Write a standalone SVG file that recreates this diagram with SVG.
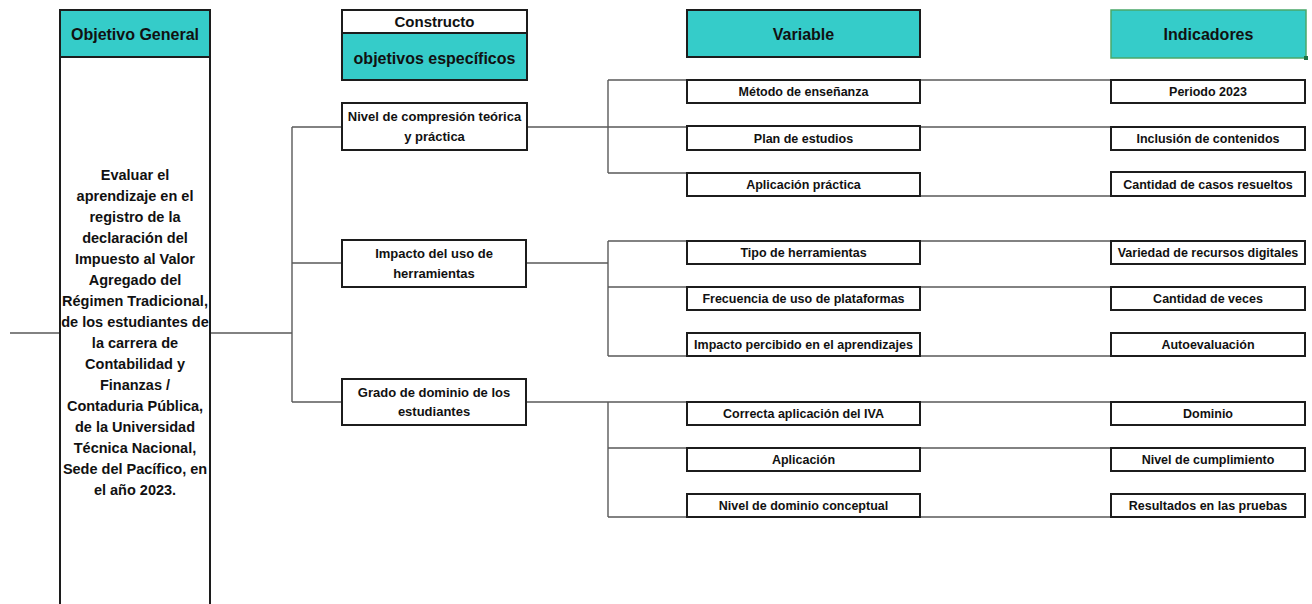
<svg xmlns="http://www.w3.org/2000/svg" width="1312" height="604" viewBox="0 0 1312 604">
<style>
.bx{fill:#fff;stroke:#1c1c1c;stroke-width:2}
.hd{fill:#35CCC9;stroke:#1c1c1c;stroke-width:2}
.t{font-family:"Liberation Sans",Arial,sans-serif;font-weight:bold;fill:#111;text-anchor:middle}
.h{font-size:16px}
.s{font-size:12.5px}
.m{font-size:13px}
.g{font-size:14.5px}
.c{fill:none;stroke:#5a5a5a;stroke-width:1.4}
</style>
<rect width="1312" height="604" fill="#fff"/>
<g id="connectors">
<path class="c" d="M10 333H60M210 333H292M292 127V402M292 127H342M292 263H342M292 402H342"/>
<path class="c" d="M527 127H687M608 80V173M608 80H687M608 173H687M920 80H1111M920 127H1111M920 196H1111"/>
<path class="c" d="M526 263H608M608 241V356M608 241H687M608 287H687M608 356H687M920 241H1111M920 287H1111M920 356H1111"/>
<path class="c" d="M526 402H687M608 402V517M608 448H687M608 517H687M920 402H1111M920 448H1111M920 517H1111"/>
</g>
<g id="objetivo-general">
<rect class="bx" x="60" y="57" width="150" height="560"/>
<rect class="hd" x="60" y="10" width="150" height="47"/>
<text class="t h" x="135" y="40">Objetivo General</text>
<text class="t g" x="135" y="180">Evaluar el</text>
<text class="t g" x="135" y="201">aprendizaje en el</text>
<text class="t g" x="135" y="222">registro de la</text>
<text class="t g" x="135" y="243">declaración del</text>
<text class="t g" x="135" y="264">Impuesto al Valor</text>
<text class="t g" x="135" y="285">Agregado del</text>
<text class="t g" x="135" y="306">Régimen Tradicional,</text>
<text class="t g" x="135" y="327">de los estudiantes de</text>
<text class="t g" x="135" y="348">la carrera de</text>
<text class="t g" x="135" y="369">Contabilidad y</text>
<text class="t g" x="135" y="390">Finanzas /</text>
<text class="t g" x="135" y="411">Contaduria Pública,</text>
<text class="t g" x="135" y="432">de la Universidad</text>
<text class="t g" x="135" y="453">Técnica Nacional,</text>
<text class="t g" x="135" y="474">Sede del Pacífico, en</text>
<text class="t g" x="135" y="495">el año 2023.</text>
</g>
<g id="constructo">
<rect class="bx" x="342" y="10" width="185" height="23"/>
<rect class="hd" x="342" y="33" width="185" height="47"/>
<text class="t" font-size="15" x="434.5" y="27">Constructo</text>
<text class="t h" x="434.5" y="64">objetivos específicos</text>
</g>
<g id="variable-header">
<rect class="hd" x="687" y="10" width="233" height="47"/>
<text class="t h" x="803.5" y="40">Variable</text>
</g>
<g id="indicadores-header">
<rect x="1111" y="10" width="195" height="48" fill="#35CCC9" stroke="#4aa86a" stroke-width="1.5"/>
<rect x="1304" y="56" width="4" height="4" fill="#1e7145"/>
<text class="t h" x="1208.5" y="40">Indicadores</text>
</g>
<g id="obj1">
<rect class="bx" x="342" y="103" width="185" height="47"/>
<text class="t m" x="434.5" y="121">Nivel de compresión teórica</text>
<text class="t m" x="434.5" y="141">y práctica</text>
</g>
<g id="obj2">
<rect class="bx" x="342" y="240" width="184" height="47"/>
<text class="t m" x="434" y="258">Impacto del uso de</text>
<text class="t m" x="434" y="278">herramientas</text>
</g>
<g id="obj3">
<rect class="bx" x="342" y="379" width="184" height="46"/>
<text class="t m" x="434" y="397">Grado de dominio de los</text>
<text class="t m" x="434" y="416">estudiantes</text>
</g>
<g id="var1"><rect class="bx" x="687" y="80" width="233" height="23"/><text class="t s" x="803.5" y="96">Método de enseñanza</text></g>
<g id="var2"><rect class="bx" x="687" y="126" width="233" height="24"/><text class="t s" x="803.5" y="143">Plan de estudios</text></g>
<g id="var3"><rect class="bx" x="687" y="173" width="233" height="23"/><text class="t s" x="803.5" y="189">Aplicación práctica</text></g>
<g id="var4"><rect class="bx" x="687" y="241" width="233" height="23"/><text class="t s" x="803.5" y="257">Tipo de herramientas</text></g>
<g id="var5"><rect class="bx" x="687" y="287" width="233" height="23"/><text class="t s" x="803.5" y="303">Frecuencia de uso de plataformas</text></g>
<g id="var6"><rect class="bx" x="687" y="333" width="233" height="23"/><text class="t s" x="803.5" y="349">Impacto percibido en el aprendizajes</text></g>
<g id="var7"><rect class="bx" x="687" y="402" width="233" height="23"/><text class="t s" x="803.5" y="418">Correcta aplicación del IVA</text></g>
<g id="var8"><rect class="bx" x="687" y="448" width="233" height="23"/><text class="t s" x="803.5" y="464">Aplicación</text></g>
<g id="var9"><rect class="bx" x="687" y="494" width="233" height="23"/><text class="t s" x="803.5" y="510">Nivel de dominio conceptual</text></g>
<g id="ind1"><rect class="bx" x="1111" y="80" width="194" height="23"/><text class="t s" x="1208" y="96">Periodo 2023</text></g>
<g id="ind2"><rect class="bx" x="1111" y="127" width="194" height="23"/><text class="t s" x="1208" y="143">Inclusión de contenidos</text></g>
<g id="ind3"><rect class="bx" x="1111" y="172" width="194" height="24"/><text class="t s" x="1208" y="189">Cantidad de casos resueltos</text></g>
<g id="ind4"><rect class="bx" x="1111" y="241" width="194" height="23"/><text class="t s" x="1208" y="257">Variedad de recursos digitales</text></g>
<g id="ind5"><rect class="bx" x="1111" y="287" width="194" height="23"/><text class="t s" x="1208" y="303">Cantidad de veces</text></g>
<g id="ind6"><rect class="bx" x="1111" y="333" width="194" height="23"/><text class="t s" x="1208" y="349">Autoevaluación</text></g>
<g id="ind7"><rect class="bx" x="1111" y="402" width="194" height="23"/><text class="t s" x="1208" y="418">Dominio</text></g>
<g id="ind8"><rect class="bx" x="1111" y="448" width="194" height="23"/><text class="t s" x="1208" y="464">Nivel de cumplimiento</text></g>
<g id="ind9"><rect class="bx" x="1111" y="494" width="194" height="23"/><text class="t s" x="1208" y="510">Resultados en las pruebas</text></g>
</svg>
